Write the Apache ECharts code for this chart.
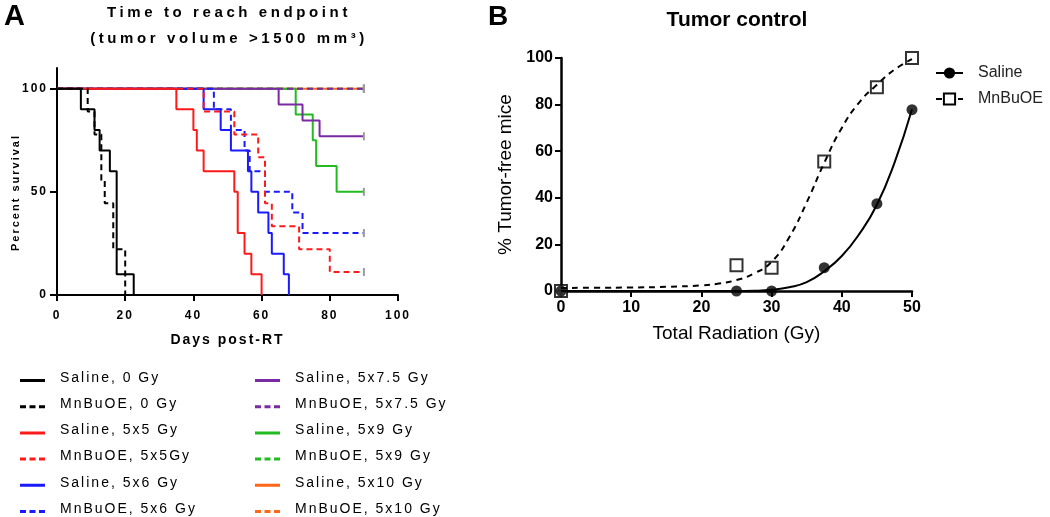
<!DOCTYPE html>
<html>
<head>
<meta charset="utf-8">
<script src="https://cdn.jsdelivr.net/npm/echarts@6/dist/echarts.min.js"></script>
<style>
html, body { margin: 0; padding: 0; background: #fff; }
#wrap { position: relative; width: 1050px; height: 517px; }
#chartA, #chartB { position: absolute; left: 0; top: 0; width: 1050px; height: 517px; }
</style>
</head>
<body>
<div id="wrap"><div id="chartA"></div><div id="chartB"></div></div>
<script>
// ---- panel A : survival steps [day, % survival] ----
var kmSaline0     = [[0,100],[7,90],[11,80],[12.5,70],[15.5,60],[17.5,10],[22.5,0]];
var kmMn0         = [[0,100],[9,88.9],[11,77.8],[13,55.6],[14,44.4],[16.5,22.2],[20,0]];
var kmSaline5x5   = [[0,100],[35,90],[40,80],[41,70],[43,60],[52,50],[53,30],[55,20],[57,10],[60,0]];
var kmMn5x5       = [[0,100],[43,88.9],[52,77.8],[59,66.7],[61,44.4],[63,33.3],[71,22.2],[80,11.1],[90,11.1]];
var kmSaline5x6   = [[0,100],[43,90],[48,80],[51,70],[56,60],[57,50],[59,40],[62,30],[63,20],[66.5,10],[68,0]];
var kmMn5x6       = [[0,100],[46,90],[51,80],[55,70],[56.5,60],[61,50],[69,40],[72,30],[90,30]];
var kmSaline5x7_5 = [[0,100],[65,92.3],[72,84.6],[77,76.9],[90,76.9]];
var kmMn5x7_5     = [[0,100],[90,100]];
var kmSaline5x9   = [[0,100],[70,87.5],[75,75],[76,62.5],[82,50],[90,50]];
var kmMn5x9       = [[0,100],[90,100]];
var kmSaline5x10  = [[0,100],[90,100]];
var kmMn5x10      = [[0,100],[90,100]];

var legendLeft  = ['Saline, 0 Gy','MnBuOE, 0 Gy','Saline, 5x5 Gy','MnBuOE, 5x5Gy','Saline, 5x6 Gy','MnBuOE, 5x6 Gy'];
var legendRight = ['Saline, 5x7.5 Gy','MnBuOE, 5x7.5 Gy','Saline, 5x9 Gy','MnBuOE, 5x9 Gy','Saline, 5x10 Gy','MnBuOE, 5x10 Gy'];

// ---- panel B : tumor control ----
var doseB        = [0, 25, 30, 37.5, 45, 50];
var salineB      = [0, 0, 0, 10, 37.5, 77.8];
var mnB          = [0, 11.1, 10, 55.6, 87.5, 100];
// fitted curves
var fitDoseSal   = [0, 10, 20, 25, 27.5, 30, 32.5, 35, 37.5, 40, 42.5, 45, 47.5, 50];
var fitSaline    = [0, 0, 0, 0, 0.1, 0.5, 1.6, 3.8, 8.5, 15, 24.5, 37, 55, 78];
var fitDoseMn    = [0, 5, 10, 15, 20, 22.5, 25, 27.5, 30, 32.5, 35, 37.5, 40, 42.5, 45, 47.5, 50];
var fitMn        = [1.3, 1.4, 1.5, 1.8, 2.4, 3.2, 4.7, 7.5, 12.5, 23, 38, 55, 70, 81, 88.5, 95, 99.5];

function pairs(xs, ys) {
  return xs.map(function (x, i) { return [x, ys[i]]; });
}

// censored curves get a small grey tick on their last point
function withCensor(arr) {
  return arr.map(function (p, i) {
    if (i === arr.length - 1 && p[1] > 0) {
      return { value: p, symbol: 'rect', symbolSize: [2, 8], itemStyle: { color: '#9a9a9a' } };
    }
    return p;
  });
}

function kmSeries(name, data, color, dashed) {
  return {
    name: name, type: 'line', step: 'end', silent: true,
    data: withCensor(data),
    symbol: 'none',
    lineStyle: { color: color, width: 2, type: dashed ? [6, 4] : 'solid' },
    itemStyle: { color: color }
  };
}

var cBlack = '#000000', cRed = '#ff1a1a', cBlue = '#1a1aff',
    cPurple = '#7b2aa3', cGreen = '#22bb22', cOrange = '#ff661a';

// legend swatches: a speck at 0,0 keeps the bar thin after scaling
var iconSolid  = 'path://M0,0h0.1v0.1h-0.1z M0,5h25v3h-25z';
var iconDashed = 'path://M0,0h0.1v0.1h-0.1z M0,5h6v3h-6z M9.5,5h6v3h-6z M19,5h6v3h-6z';

function legendItems(names) {
  return names.map(function (n) {
    return { name: n, icon: n.indexOf('MnBuOE') === 0 ? iconDashed : iconSolid };
  });
}

// panel A text is printed with wide letter spacing (only canvases inside #chartA)
var nativeFill = CanvasRenderingContext2D.prototype.fillText;
CanvasRenderingContext2D.prototype.fillText = function () {
  var c = this.canvas;
  if (c && c.closest && c.closest('#chartA')) {
    var m = /(\d+)px/.exec(this.font);
    this.letterSpacing = (m && +m[1] >= 15 && +m[1] < 20) ? '3.6px' : '2px';
  } else {
    this.letterSpacing = '0px';
  }
  return nativeFill.apply(this, arguments);
};

var legendBase = {
  orient: 'vertical', top: 366, height: 170, itemWidth: 25, itemHeight: 8, itemGap: 12.2,
  selectedMode: false,
  textStyle: { fontSize: 14, color: '#000', lineHeight: 14, padding: [0, 0, 0, 10] }
};

var chartA = echarts.init(document.getElementById('chartA'), null, { renderer: 'canvas' });
chartA.setOption({
  animation: false,
  textStyle: { fontFamily: 'Liberation Sans', color: '#000' },
  title: {
    text: 'Time to reach endpoint\n(tumor volume >1500 mm³)',
    left: 229, top: 0, padding: 0, textAlign: 'center',
    textStyle: { fontSize: 15, fontWeight: 'bold', lineHeight: 26, color: '#000' }
  },
  graphic: [{ type: 'text', left: 4, top: 2, style: { text: 'A', font: 'bold 29px "Liberation Sans"', fill: '#000' } }],
  legend: [
    Object.assign({}, legendBase, { left: 15, data: legendItems(legendLeft) }),
    Object.assign({}, legendBase, { left: 250, data: legendItems(legendRight) })
  ],
  grid: { left: 57, right: 652, top: 68, bottom: 222, outerBoundsMode: 'none' },
  xAxis: {
    type: 'value', min: 0, max: 100, interval: 20,
    name: 'Days post-RT', nameLocation: 'middle', nameGap: 38, nameMoveOverlap: false,
    nameTextStyle: { fontSize: 14, fontWeight: 'bold', color: '#000' },
    axisLine: { show: true, lineStyle: { color: '#000', width: 2 } },
    axisTick: { show: true, length: 6, lineStyle: { color: '#000', width: 2 } },
    axisLabel: { fontSize: 12, fontWeight: 'bold', color: '#000', margin: 15 },
    splitLine: { show: false }
  },
  yAxis: {
    type: 'value', min: 0, max: 110, interval: 50,
    name: 'Percent survival', nameLocation: 'middle', nameGap: 36, nameRotate: 90, nameMoveOverlap: false,
    nameTextStyle: { fontSize: 11, fontWeight: 'bold', color: '#000', padding: [0, 22, 0, 0] },
    axisLine: { show: true, lineStyle: { color: '#000', width: 2 } },
    axisTick: { show: true, length: 7, customValues: [0, 50, 100], lineStyle: { color: '#000', width: 2 } },
    axisLabel: { customValues: [0, 50, 100], fontSize: 12, fontWeight: 'bold', color: '#000', margin: 9 },
    splitLine: { show: false }
  },
  // drawn back to front: last group first
  series: [
    kmSeries('MnBuOE, 5x10 Gy', kmMn5x10, cOrange, true),
    kmSeries('Saline, 5x10 Gy', kmSaline5x10, cOrange, false),
    kmSeries('MnBuOE, 5x9 Gy', kmMn5x9, cGreen, true),
    kmSeries('Saline, 5x9 Gy', kmSaline5x9, cGreen, false),
    kmSeries('MnBuOE, 5x7.5 Gy', kmMn5x7_5, cPurple, true),
    kmSeries('Saline, 5x7.5 Gy', kmSaline5x7_5, cPurple, false),
    kmSeries('MnBuOE, 5x6 Gy', kmMn5x6, cBlue, true),
    kmSeries('Saline, 5x6 Gy', kmSaline5x6, cBlue, false),
    kmSeries('MnBuOE, 5x5Gy', kmMn5x5, cRed, true),
    kmSeries('Saline, 5x5 Gy', kmSaline5x5, cRed, false),
    kmSeries('MnBuOE, 0 Gy', kmMn0, cBlack, true),
    kmSeries('Saline, 0 Gy', kmSaline0, cBlack, false)
  ]
});

var chartB = echarts.init(document.getElementById('chartB'), null, { renderer: 'canvas' });
chartB.setOption({
  animation: false,
  textStyle: { fontFamily: 'Arial', color: '#000' },
  title: {
    text: 'Tumor control', left: 737, top: 10, padding: 0, textAlign: 'center',
    textStyle: { fontSize: 21, fontWeight: 'bold', color: '#000' }
  },
  graphic: [{ type: 'text', left: 488, top: 3, style: { text: 'B', font: 'bold 28px Arial', fill: '#000' } }],
  legend: {
    orient: 'vertical', left: 930, top: 60, itemWidth: 27, itemHeight: 14, itemGap: 10,
    selectedMode: false, data: ['Saline', 'MnBuOE'],
    textStyle: { fontSize: 16, color: '#222', lineHeight: 16, padding: [0, 0, 0, 10] }
  },
  grid: { left: 561, right: 138, top: 58, bottom: 226, outerBoundsMode: 'none' },
  xAxis: {
    type: 'value', min: 0, max: 50, interval: 10,
    name: 'Total Radiation (Gy)', nameLocation: 'middle', nameGap: 33, nameMoveOverlap: false,
    nameTextStyle: { fontSize: 19, color: '#000' },
    axisLine: { show: true, lineStyle: { color: '#000', width: 2.5 } },
    axisTick: { show: true, length: 6, lineStyle: { color: '#000', width: 2 } },
    axisLabel: { fontSize: 16, fontWeight: 'bold', color: '#000', margin: 9 },
    splitLine: { show: false }
  },
  yAxis: {
    type: 'value', min: 0, max: 100, interval: 20,
    name: '% Tumor-free mice', nameLocation: 'middle', nameGap: 46, nameRotate: 90, nameMoveOverlap: false,
    nameTextStyle: { fontSize: 19, color: '#000' },
    axisLine: { show: true, lineStyle: { color: '#000', width: 2.5 } },
    axisTick: { show: true, length: 6, lineStyle: { color: '#000', width: 2 } },
    axisLabel: { fontSize: 16, fontWeight: 'bold', color: '#000', margin: 8 },
    splitLine: { show: false }
  },
  series: [
    {
      name: 'Saline', type: 'line', data: pairs(fitDoseSal, fitSaline),
      smooth: 0.5, symbol: 'circle', symbolSize: 11, showSymbol: false,
      lineStyle: { color: '#000', width: 2 }, itemStyle: { color: '#000' }
    },
    {
      name: 'MnBuOE', type: 'line', data: pairs(fitDoseMn, fitMn),
      smooth: 0.5, symbol: 'rect', symbolSize: 11, showSymbol: false,
      lineStyle: { color: '#000', width: 2, type: [6, 5] },
      itemStyle: { color: '#fff', borderColor: '#000', borderWidth: 2 }
    },
    {
      name: 'MnBuOE', type: 'scatter', data: pairs(doseB, mnB), clip: false,
      symbol: 'rect', symbolSize: 12,
      itemStyle: { color: '#fff', borderColor: '#000', borderWidth: 2 }
    },
    {
      name: 'Saline', type: 'scatter', data: pairs(doseB, salineB), clip: false,
      symbol: 'circle', symbolSize: 11, itemStyle: { color: '#000' }
    }
  ]
});
</script>
</body>
</html>
